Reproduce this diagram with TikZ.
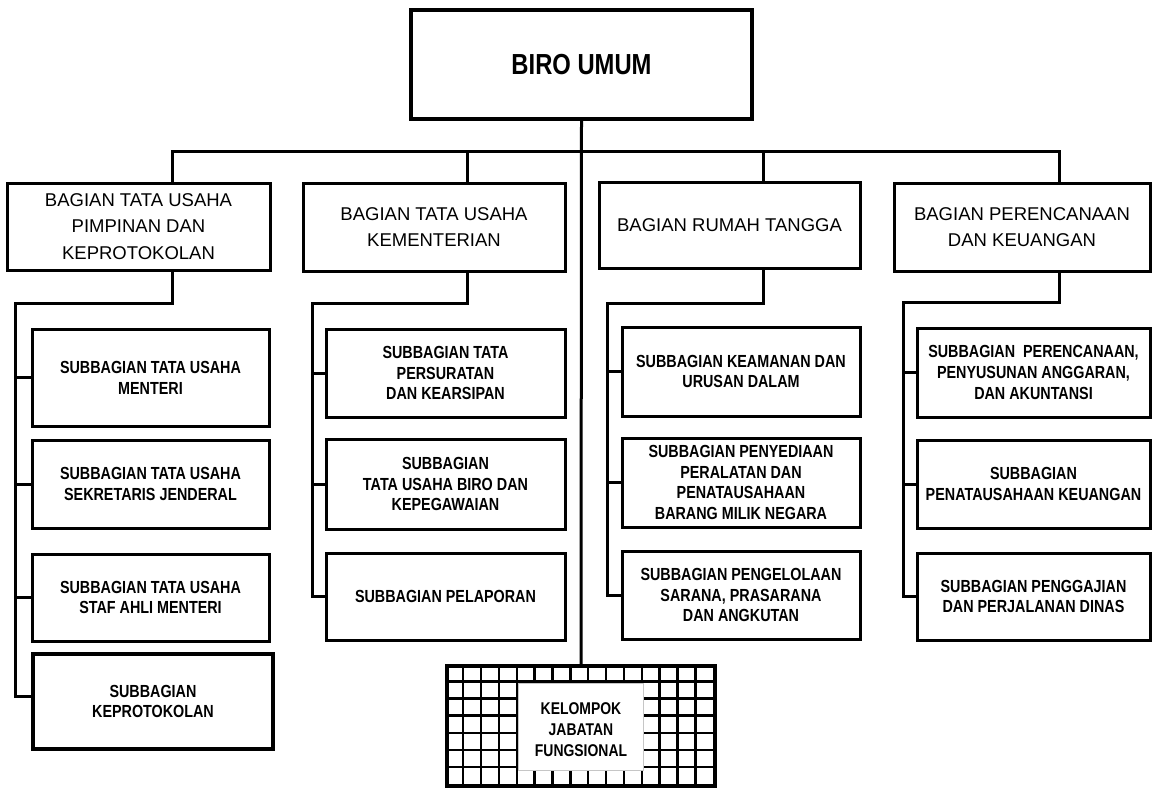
\documentclass[tikz,border=0pt]{standalone}
\usepackage{fontspec}
\setmainfont{Liberation Sans}
\newfontfamily\condfont[FakeStretch=0.82]{Liberation Sans}
\usetikzlibrary{calc}

\begin{document}
\begin{tikzpicture}[x=1pt,y=-1pt,
  wire/.style={line width=3pt},
  unitbox/.style={draw, line width=3pt, inner sep=0pt, align=center, fill=white},
  headbox/.style={unitbox, font=\fontsize{18.5}{26.7}\selectfont},
  subbox/.style={unitbox, font=\condfont\bfseries\fontsize{17.5}{20.8}\selectfont},
]
\useasboundingbox (0,0) rectangle (1152,788);

% top unit
\node[unitbox, line width=4pt, minimum width=341pt, minimum height=109pt,
      font=\condfont\bfseries\fontsize{29}{34}\selectfont] (biro) at (581.5,64.7) {BIRO UMUM};

% bagian row
\node[headbox, minimum width=263pt, minimum height=87pt] (b1) at (138.5,226.5) {BAGIAN TATA USAHA\\PIMPINAN DAN\\KEPROTOKOLAN};
\node[headbox, minimum width=262pt, minimum height=88pt] (b2) at (434,227) {BAGIAN TATA USAHA\\KEMENTERIAN};
\node[headbox, minimum width=261pt, minimum height=86pt] (b3) at (729.5,225) {BAGIAN RUMAH TANGGA};
\node[headbox, minimum width=256pt, minimum height=88pt] (b4) at (1022,227) {BAGIAN PERENCANAAN\\DAN KEUANGAN};

% column 1
\node[subbox, minimum width=237pt, minimum height=97pt] (s11) at (150.5,377.5) {SUBBAGIAN TATA USAHA\\MENTERI};
\node[subbox, minimum width=237pt, minimum height=88pt] (s12) at (150.5,484) {SUBBAGIAN TATA USAHA\\SEKRETARIS JENDERAL};
\node[subbox, minimum width=237pt, minimum height=87pt] (s13) at (150.5,597.5) {SUBBAGIAN TATA USAHA\\STAF AHLI MENTERI};
\node[subbox, line width=4pt, minimum width=240pt, minimum height=95pt] (s14) at (153,701.5) {SUBBAGIAN\\KEPROTOKOLAN};

% column 2
\node[subbox, minimum width=239pt, minimum height=88pt] (s21) at (445.5,373) {SUBBAGIAN TATA\\PERSURATAN\\DAN KEARSIPAN};
\node[subbox, minimum width=239pt, minimum height=90pt] (s22) at (445.5,484) {SUBBAGIAN\\TATA USAHA BIRO DAN\\KEPEGAWAIAN};
\node[subbox, minimum width=239pt, minimum height=87pt] (s23) at (445.5,596.5) {SUBBAGIAN PELAPORAN};

% column 3
\node[subbox, minimum width=238pt, minimum height=89pt] (s31) at (741,371.5) {SUBBAGIAN KEAMANAN DAN\\URUSAN DALAM};
\node[subbox, minimum width=238pt, minimum height=89pt] (s32) at (741,482.5) {SUBBAGIAN PENYEDIAAN\\PERALATAN DAN\\PENATAUSAHAAN\\BARANG MILIK NEGARA};
\node[subbox, minimum width=238pt, minimum height=88pt] (s33) at (741,595) {SUBBAGIAN PENGELOLAAN\\SARANA, PRASARANA\\DAN ANGKUTAN};

% column 4
\node[subbox, minimum width=233pt, minimum height=89pt] (s41) at (1033.5,372.5) {SUBBAGIAN\ \ PERENCANAAN,\\PENYUSUNAN ANGGARAN,\\DAN AKUNTANSI};
\node[subbox, minimum width=233pt, minimum height=88pt] (s42) at (1033.5,484) {SUBBAGIAN\\PENATAUSAHAAN KEUANGAN};
\node[subbox, minimum width=233pt, minimum height=87pt] (s43) at (1033.5,596.5) {SUBBAGIAN PENGGAJIAN\\DAN PERJALANAN DINAS};

% functional group: grid-filled box with a white label panel
\node[draw, line width=3.5pt, minimum width=268pt, minimum height=120pt, inner sep=0pt] (kjf) at (581,726) {};
\foreach \i in {1,...,14}
  \draw[line width=2.4pt] ($(kjf.north west)+(\i*17.867,0)$) -- ($(kjf.south west)+(\i*17.867,0)$);
\foreach \j in {1,...,6}
  \draw[line width=2.4pt] ($(kjf.north west)+(0,\j*17.143)$) -- ($(kjf.north east)+(0,\j*17.143)$);
\node[fill=white, draw=gray!45, line width=0.6pt, minimum width=125pt, minimum height=87pt,
      inner sep=0pt] (kjfpanel) at (581,726.5) {};
\node[align=center, inner sep=0pt, font=\condfont\bfseries\fontsize{17}{21}\selectfont]
      (kjftext) at (581,729.5) {KELOMPOK\\JABATAN\\FUNGSIONAL};

% main bus
\coordinate (t1) at (172,151);
\coordinate (t2) at (467,151);
\coordinate (t3) at (763,151);
\coordinate (t4) at (1059,151);
\draw[wire] (b1.north -| t1) -- (t1) -- (t4) -- (b4.north -| t4);
\draw[wire] (b2.north -| t2) -- (t2);
\draw[wire] (b3.north -| t3) -- (t3);
\draw[wire] (biro.south) -- (kjf.north);

% column buses
\coordinate (k1) at (15,303);
\coordinate (k2) at (312,303);
\coordinate (k3) at (607,303);
\coordinate (k4) at (903,302);
\coordinate (e14) at ([yshift=5pt]s14.west);

\draw[wire] (b1.south -| t1) -- (t1 |- k1) -- (k1) -- (k1 |- e14) -- (e14);
\foreach \s in {s11,s12,s13} \draw[wire] (\s.west -| k1) -- (\s.west);

\draw[wire] (b2.south -| t2) -- (t2 |- k2) -- (k2) -- (k2 |- s23.west) -- (s23.west);
\foreach \s in {s21,s22} \draw[wire] (\s.west -| k2) -- (\s.west);

\draw[wire] (b3.south -| t3) -- (t3 |- k3) -- (k3) -- (k3 |- s33.west) -- (s33.west);
\foreach \s in {s31,s32} \draw[wire] (\s.west -| k3) -- (\s.west);

\draw[wire] (b4.south -| t4) -- (t4 |- k4) -- (k4) -- (k4 |- s43.west) -- (s43.west);
\foreach \s in {s41,s42} \draw[wire] (\s.west -| k4) -- (\s.west);
\end{tikzpicture}
\end{document}
